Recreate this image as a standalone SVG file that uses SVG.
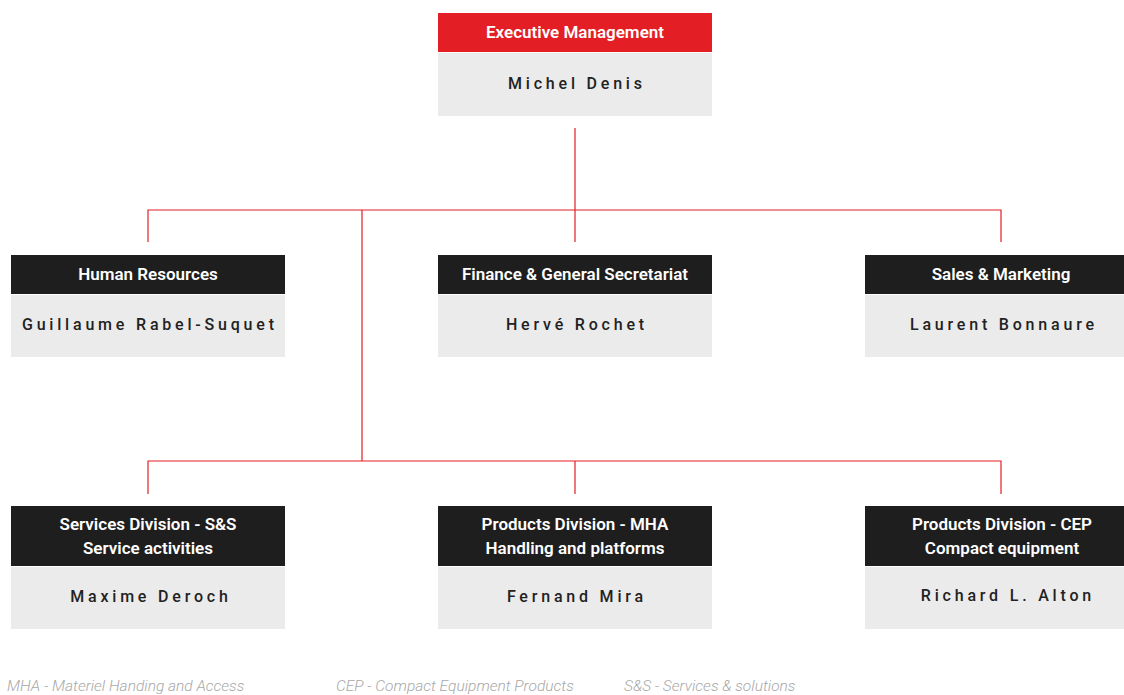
<svg xmlns="http://www.w3.org/2000/svg" width="1124" height="695" viewBox="0 0 1124 695">
<style>
.hd{fill:#1e1e1e}
.hdr{fill:#e31e24}
.bd{fill:#ebebeb}
.ht{font-family:Roboto,"Liberation Sans",sans-serif;font-size:17px;font-weight:600;fill:#fff;text-anchor:middle}
.nm{font-family:Roboto,"Liberation Sans",sans-serif;font-size:16px;font-weight:500;fill:#222;text-anchor:middle;letter-spacing:3.8px}
.ft{font-family:Roboto,"Liberation Sans",sans-serif;font-size:15.5px;font-style:italic;font-weight:300;fill:#a8a8a8}
.cn{fill:none;stroke:#e31e24;stroke-width:1.2}
</style>
<rect width="1124" height="695" fill="#fff"/>
<g id="connectors" class="cn">
<path d="M575 128V242M148 242V210H1001V242M362 210V461M148 494V461H1001V494M575 461V494"/>
</g>
<g id="exec">
<rect class="hdr" x="438" y="13" width="274" height="39"/>
<rect class="bd" x="438" y="53" width="274" height="63"/>
<text class="ht" x="575" y="38">Executive Management</text>
<text class="nm" x="576.9" y="89">Michel Denis</text>
</g>
<g id="hr">
<rect class="hd" x="11" y="255" width="274" height="39"/>
<rect class="bd" x="11" y="295" width="274" height="62"/>
<text class="ht" x="148" y="280">Human Resources</text>
<text class="nm" x="149.9" y="330">Guillaume Rabel-Suquet</text>
</g>
<g id="finance">
<rect class="hd" x="438" y="255" width="274" height="39"/>
<rect class="bd" x="438" y="295" width="274" height="62"/>
<text class="ht" x="575" y="280">Finance &amp; General Secretariat</text>
<text class="nm" x="576.9" y="330">Hervé Rochet</text>
</g>
<g id="sales">
<rect class="hd" x="865" y="255" width="274" height="39"/>
<rect class="bd" x="865" y="295" width="274" height="62"/>
<text class="ht" x="1001" y="280">Sales &amp; Marketing</text>
<text class="nm" x="1003.9" y="330">Laurent Bonnaure</text>
</g>
<g id="services">
<rect class="hd" x="11" y="506" width="274" height="60"/>
<rect class="bd" x="11" y="567" width="274" height="62"/>
<text class="ht" x="148" y="530">Services Division - S&amp;S</text>
<text class="ht" x="148" y="554">Service activities</text>
<text class="nm" x="150.9" y="602">Maxime Deroch</text>
</g>
<g id="mha">
<rect class="hd" x="438" y="506" width="274" height="60"/>
<rect class="bd" x="438" y="567" width="274" height="62"/>
<text class="ht" x="575" y="530">Products Division - MHA</text>
<text class="ht" x="575" y="554">Handling and platforms</text>
<text class="nm" x="576.9" y="602">Fernand Mira</text>
</g>
<g id="cep">
<rect class="hd" x="865" y="506" width="274" height="60"/>
<rect class="bd" x="865" y="567" width="274" height="62"/>
<text class="ht" x="1002" y="530">Products Division - CEP</text>
<text class="ht" x="1002" y="554">Compact equipment</text>
<text class="nm" x="1007.9" y="601">Richard L. Alton</text>
</g>
<g id="legend">
<text class="ft" x="7" y="691">MHA - Materiel Handing and Access</text>
<text class="ft" x="336" y="691">CEP - Compact Equipment Products</text>
<text class="ft" x="624" y="691">S&amp;S - Services &amp; solutions</text>
</g>
</svg>
